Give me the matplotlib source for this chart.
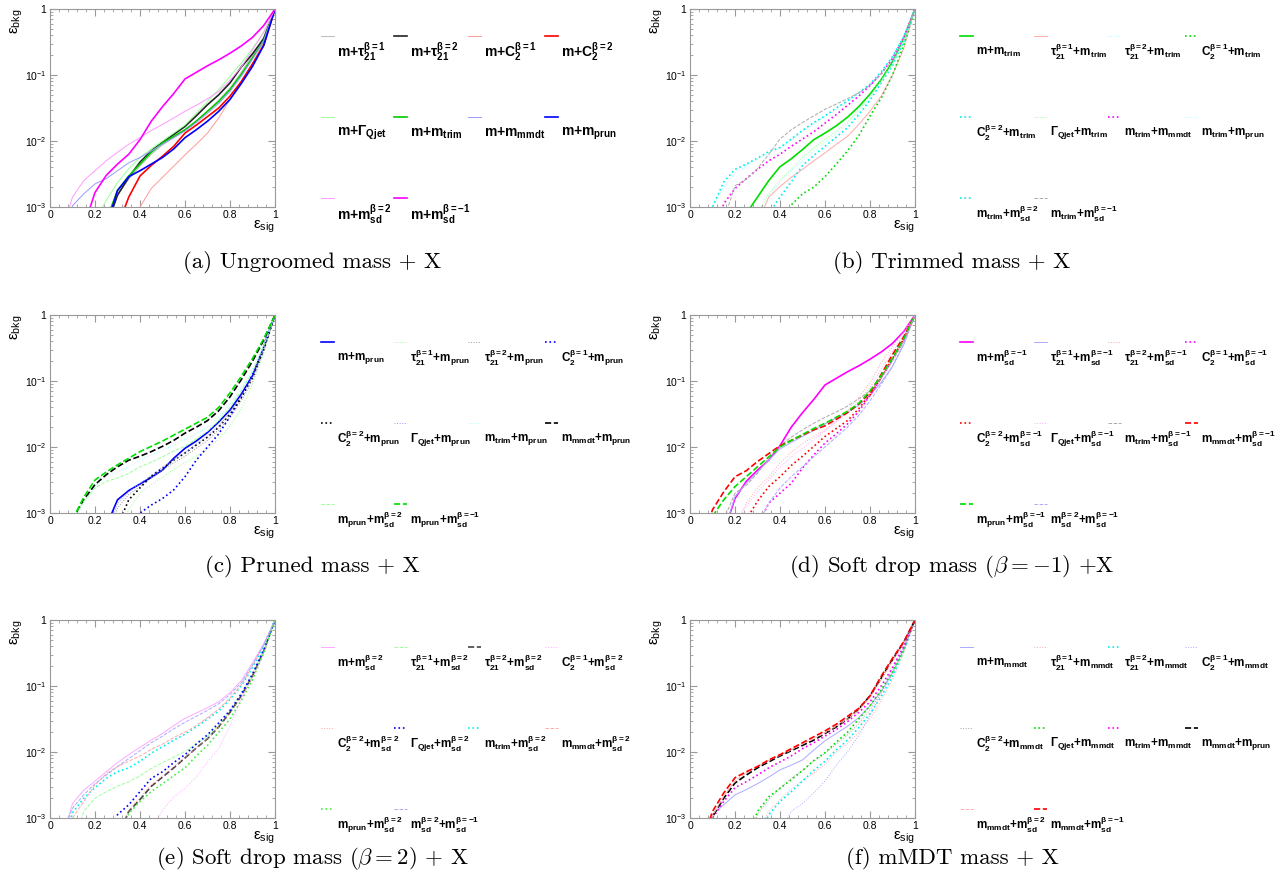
import numpy as np
import matplotlib
matplotlib.use('Agg')
import matplotlib.pyplot as plt
from matplotlib.lines import Line2D
from matplotlib.ticker import FixedLocator, FixedFormatter, LogLocator, NullFormatter, MultipleLocator

plt.rcParams['font.family'] = 'Liberation Sans'
plt.rcParams['mathtext.fontset'] = 'custom'
plt.rcParams['mathtext.rm'] = 'Liberation Sans'
plt.rcParams['mathtext.it'] = 'Liberation Sans'
plt.rcParams['mathtext.sf'] = 'Liberation Sans'
plt.rcParams['mathtext.bf'] = 'Liberation Sans:bold'

W, H = 1276, 892
N = None

# signal efficiency grid, background efficiency stored as log10(eps_bkg)
sig_eff = [0.05, 0.10, 0.15, 0.20, 0.25, 0.30, 0.35, 0.40, 0.45, 0.50,
           0.55, 0.60, 0.65, 0.70, 0.75, 0.80, 0.85, 0.90, 0.95, 1.00]

log_bkg_a = [
  [N, N, N, N, -3.3, -2.82, -2.58, -2.38, -2.2, -2.06, -1.95, -1.84, -1.7, -1.55, -1.38, -1.2, -0.96, -0.7, -0.42, 0],
  [N, N, N, N, -3.3, -2.82, -2.55, -2.32, -2.15, -2.02, -1.9, -1.78, -1.62, -1.45, -1.3, -1.12, -0.88, -0.68, -0.45, 0],
  [N, N, N, N, N, N, -3.4, -3.0, -2.72, -2.55, -2.38, -2.21, -2.05, -1.88, -1.65, -1.37, -1.1, -0.83, -0.5, 0],
  [N, N, N, N, N, -3.3, -2.85, -2.53, -2.37, -2.23, -2.08, -1.88, -1.76, -1.63, -1.5, -1.32, -1.1, -0.83, -0.55, 0],
  [N, N, N, -3.2, -2.9, -2.63, -2.42, -2.25, -2.12, -2.0, -1.88, -1.76, -1.58, -1.4, -1.22, -1.02, -0.82, -0.6, -0.35, 0],
  [N, N, N, N, -3.2, -2.75, -2.53, -2.35, -2.17, -2.03, -1.93, -1.83, -1.7, -1.55, -1.4, -1.22, -0.99, -0.74, -0.48, 0],
  [-3.5, -2.98, -2.8, -2.65, -2.57, -2.45, -2.33, -2.25, -2.15, -2.05, -1.95, -1.85, -1.72, -1.58, -1.43, -1.25, -1.02, -0.76, -0.48, 0],
  [N, N, N, N, -3.3, -2.75, -2.54, -2.45, -2.35, -2.25, -2.12, -1.95, -1.83, -1.7, -1.55, -1.37, -1.13, -0.87, -0.55, 0],
  [-3.4, -2.85, -2.6, -2.45, -2.3, -2.17, -2.05, -1.95, -1.84, -1.75, -1.65, -1.55, -1.46, -1.36, -1.25, -1.08, -0.88, -0.62, -0.35, 0],
  [N, N, -3.3, -2.78, -2.52, -2.35, -2.2, -1.98, -1.7, -1.48, -1.28, -1.06, -0.96, -0.86, -0.77, -0.67, -0.56, -0.43, -0.25, 0],
]

log_bkg_b = [
  [N, N, N, N, -3.1, -2.85, -2.6, -2.39, -2.27, -2.13, -1.98, -1.88, -1.77, -1.64, -1.48, -1.29, -1.07, -0.8, -0.45, 0],
  [N, N, N, N, N, -3.25, -2.85, -2.69, -2.55, -2.43, -2.3, -2.18, -2.05, -1.93, -1.75, -1.55, -1.32, -1.0, -0.6, 0],
  [N, -3.0, -2.7, -2.48, -2.38, -2.27, -2.18, -2.1, -1.98, -1.86, -1.74, -1.63, -1.52, -1.4, -1.28, -1.14, -0.96, -0.73, -0.42, 0],
  [N, N, N, N, N, N, N, -3.4, -2.97, -2.8, -2.7, -2.54, -2.35, -2.15, -1.92, -1.62, -1.35, -1.0, -0.55, 0],
  [N, N, N, N, N, N, -3.1, -2.85, -2.62, -2.37, -2.22, -2.08, -1.94, -1.8, -1.6, -1.38, -1.12, -0.86, -0.5, 0],
  [N, N, N, N, N, -3.1, -2.8, -2.59, -2.43, -2.25, -2.1, -1.98, -1.85, -1.72, -1.52, -1.32, -1.08, -0.82, -0.48, 0],
  [N, -3.5, -2.95, -2.72, -2.57, -2.43, -2.3, -2.2, -2.08, -1.97, -1.86, -1.73, -1.6, -1.46, -1.32, -1.16, -0.98, -0.75, -0.43, 0],
  [N, N, N, N, N, -3.2, -2.82, -2.62, -2.45, -2.3, -2.16, -2.02, -1.88, -1.74, -1.55, -1.34, -1.1, -0.84, -0.48, 0],
  [-3.5, -3.0, -2.62, -2.43, -2.35, -2.26, -2.16, -2.1, -1.97, -1.84, -1.72, -1.62, -1.5, -1.39, -1.27, -1.14, -0.95, -0.72, -0.42, 0],
  [N, N, -3.2, -2.68, -2.58, -2.42, -2.2, -1.97, -1.83, -1.72, -1.62, -1.52, -1.44, -1.36, -1.27, -1.16, -0.98, -0.78, -0.45, 0],
]

log_bkg_c = [
  [N, N, N, N, -3.2, -2.8, -2.66, -2.56, -2.46, -2.35, -2.17, -2.02, -1.91, -1.78, -1.62, -1.44, -1.2, -0.92, -0.48, 0],
  [N, N, N, N, N, -3.3, -2.95, -2.7, -2.57, -2.46, -2.34, -2.24, -2.14, -2.04, -1.88, -1.68, -1.42, -1.05, -0.58, 0],
  [N, N, N, N, -3.5, -2.92, -2.72, -2.6, -2.47, -2.35, -2.24, -2.14, -2.02, -1.9, -1.74, -1.55, -1.3, -1.0, -0.55, 0],
  [N, N, N, N, N, N, -3.5, -3.0, -2.88, -2.78, -2.65, -2.45, -2.2, -2.0, -1.8, -1.54, -1.25, -0.9, -0.5, 0],
  [N, N, N, N, N, -3.2, -2.8, -2.62, -2.44, -2.32, -2.2, -2.09, -1.97, -1.85, -1.7, -1.5, -1.25, -0.95, -0.52, 0],
  [N, N, N, N, -3.4, -2.85, -2.68, -2.55, -2.43, -2.31, -2.2, -2.08, -1.96, -1.83, -1.68, -1.48, -1.23, -0.93, -0.5, 0],
  [N, -3.2, -2.85, -2.6, -2.45, -2.38, -2.3, -2.2, -2.12, -2.05, -1.97, -1.89, -1.8, -1.7, -1.55, -1.35, -1.1, -0.82, -0.45, 0],
  [N, -3.1, -2.8, -2.57, -2.42, -2.3, -2.2, -2.14, -2.07, -1.99, -1.9, -1.79, -1.7, -1.6, -1.45, -1.24, -0.98, -0.7, -0.38, 0],
  [N, -3.1, -2.82, -2.62, -2.52, -2.47, -2.4, -2.3, -2.23, -2.15, -2.06, -1.99, -1.88, -1.76, -1.6, -1.4, -1.15, -0.86, -0.47, 0],
  [N, -3.1, -2.76, -2.5, -2.38, -2.27, -2.17, -2.07, -1.99, -1.91, -1.82, -1.73, -1.64, -1.55, -1.4, -1.18, -0.93, -0.66, -0.36, 0],
]

log_bkg_d = [
  [N, N, -3.3, -2.78, -2.52, -2.35, -2.2, -1.98, -1.7, -1.48, -1.28, -1.06, -0.96, -0.86, -0.77, -0.67, -0.56, -0.43, -0.25, 0],
  [N, N, -3.3, -2.75, -2.55, -2.38, -2.2, -2.03, -1.93, -1.84, -1.75, -1.65, -1.56, -1.47, -1.37, -1.22, -1.02, -0.78, -0.45, 0],
  [N, N, N, -3.2, -2.85, -2.62, -2.45, -2.24, -2.08, -1.95, -1.84, -1.74, -1.6, -1.45, -1.25, -1.03, -0.72, -0.48, -0.25, 0],
  [N, N, N, N, N, -3.2, -2.85, -2.7, -2.55, -2.32, -2.12, -1.94, -1.8, -1.65, -1.46, -1.22, -0.95, -0.68, -0.38, 0],
  [N, N, N, N, -3.1, -2.82, -2.6, -2.45, -2.28, -2.14, -1.99, -1.84, -1.72, -1.6, -1.42, -1.21, -0.95, -0.66, -0.36, 0],
  [N, N, N, -3.2, -2.9, -2.68, -2.5, -2.3, -2.15, -2.02, -1.88, -1.76, -1.62, -1.48, -1.3, -1.1, -0.82, -0.55, -0.3, 0],
  [N, N, -3.1, -2.7, -2.58, -2.4, -2.17, -1.98, -1.85, -1.74, -1.64, -1.55, -1.47, -1.38, -1.27, -1.15, -0.95, -0.7, -0.4, 0],
  [-3.5, -2.95, -2.68, -2.45, -2.36, -2.22, -2.1, -1.98, -1.9, -1.82, -1.74, -1.68, -1.58, -1.48, -1.35, -1.18, -0.9, -0.6, -0.33, 0],
  [N, -3.05, -2.8, -2.6, -2.45, -2.3, -2.15, -2.0, -1.9, -1.81, -1.72, -1.64, -1.55, -1.46, -1.34, -1.15, -0.92, -0.65, -0.36, 0],
  [N, N, N, N, N, -3.2, -2.85, -2.62, -2.45, -2.3, -2.15, -2.0, -1.85, -1.7, -1.52, -1.3, -1.05, -0.78, -0.43, 0],
]

log_bkg_e = [
  [-3.4, -2.78, -2.58, -2.44, -2.3, -2.16, -2.04, -1.93, -1.82, -1.72, -1.6, -1.49, -1.41, -1.33, -1.24, -1.1, -0.92, -0.65, -0.36, 0],
  [N, -3.4, -2.9, -2.7, -2.6, -2.52, -2.45, -2.36, -2.25, -2.16, -2.08, -1.99, -1.88, -1.76, -1.6, -1.38, -1.12, -0.82, -0.45, 0],
  [N, N, N, N, N, -3.3, -2.9, -2.72, -2.52, -2.38, -2.24, -2.09, -1.94, -1.8, -1.62, -1.4, -1.15, -0.85, -0.47, 0],
  [N, N, N, N, N, N, N, N, -3.2, -2.88, -2.68, -2.55, -2.38, -2.15, -1.95, -1.6, -1.2, -0.88, -0.5, 0],
  [N, N, N, N, N, -3.3, -2.88, -2.68, -2.5, -2.36, -2.22, -2.08, -1.94, -1.8, -1.62, -1.42, -1.16, -0.86, -0.48, 0],
  [N, N, N, N, -3.4, -2.95, -2.8, -2.6, -2.4, -2.3, -2.16, -2.04, -1.88, -1.74, -1.56, -1.37, -1.12, -0.82, -0.45, 0],
  [-3.5, -2.92, -2.7, -2.54, -2.4, -2.3, -2.24, -2.14, -2.02, -1.92, -1.82, -1.73, -1.62, -1.5, -1.38, -1.2, -1.0, -0.72, -0.4, 0],
  [N, -3.0, -2.75, -2.5, -2.33, -2.22, -2.14, -2.06, -1.96, -1.88, -1.78, -1.7, -1.6, -1.48, -1.35, -1.18, -0.98, -0.7, -0.38, 0],
  [N, N, N, N, N, -3.4, -2.93, -2.75, -2.6, -2.48, -2.36, -2.24, -2.06, -1.9, -1.7, -1.5, -1.22, -0.9, -0.5, 0],
  [-3.3, -2.85, -2.65, -2.48, -2.35, -2.22, -2.1, -1.98, -1.86, -1.76, -1.65, -1.55, -1.46, -1.37, -1.27, -1.13, -0.95, -0.68, -0.37, 0],
]

log_bkg_f = [
  [-3.5, -2.95, -2.8, -2.65, -2.57, -2.48, -2.38, -2.27, -2.2, -2.12, -1.97, -1.83, -1.72, -1.61, -1.48, -1.3, -1.08, -0.8, -0.45, 0],
  [N, N, N, N, N, -3.2, -2.9, -2.72, -2.56, -2.43, -2.32, -2.19, -2.0, -1.87, -1.7, -1.5, -1.22, -0.9, -0.5, 0],
  [N, N, N, N, N, -3.3, -2.95, -2.75, -2.6, -2.44, -2.28, -2.14, -1.97, -1.82, -1.63, -1.42, -1.16, -0.85, -0.47, 0],
  [N, N, N, N, N, N, N, -3.2, -2.9, -2.78, -2.62, -2.44, -2.2, -2.0, -1.75, -1.45, -1.1, -0.74, -0.4, 0],
  [N, N, N, N, -3.4, -2.95, -2.72, -2.55, -2.4, -2.28, -2.14, -2.02, -1.88, -1.74, -1.57, -1.36, -1.1, -0.82, -0.45, 0],
  [N, N, N, N, -3.4, -2.9, -2.68, -2.55, -2.42, -2.28, -2.13, -2.01, -1.85, -1.7, -1.5, -1.3, -1.06, -0.78, -0.43, 0],
  [-3.5, -3.0, -2.75, -2.54, -2.45, -2.35, -2.24, -2.15, -2.06, -1.95, -1.86, -1.76, -1.66, -1.54, -1.4, -1.24, -1.0, -0.72, -0.4, 0],
  [-3.6, -2.98, -2.7, -2.47, -2.35, -2.24, -2.15, -2.06, -1.98, -1.9, -1.82, -1.72, -1.62, -1.5, -1.35, -1.15, -0.88, -0.6, -0.34, 0],
  [-3.6, -2.97, -2.67, -2.44, -2.32, -2.22, -2.13, -2.05, -1.97, -1.88, -1.8, -1.71, -1.61, -1.5, -1.36, -1.17, -0.9, -0.62, -0.35, 0],
  [-3.4, -2.9, -2.62, -2.39, -2.3, -2.22, -2.12, -2.04, -1.95, -1.86, -1.77, -1.68, -1.58, -1.46, -1.34, -1.15, -0.85, -0.58, -0.33, 0],
]

# legend label pieces
T1 = r'\tau_{21}^{\beta{=}1}'
T2 = r'\tau_{21}^{\beta{=}2}'
C1 = r'C_{2}^{\beta{=}1}'
C2 = r'C_{2}^{\beta{=}2}'
QJ = r'\Gamma_{Qjet}'
TR = r'm_{trim}'
MD = r'm_{mmdt}'
PR = r'm_{prun}'
S2 = r'm_{sd}^{\beta{=}2}'
SM = r'm_{sd}^{\beta{=}{-}1}'

def pair(a, b):
  return r'$\mathbf{' + a + '{+}' + b + '}$'

labels_a = [pair('m', x) for x in [T1, T2, C1, C2, QJ, TR, MD, PR, S2, SM]]
labels_b = [pair('m', TR), pair(T1, TR), pair(T2, TR), pair(C1, TR), pair(C2, TR),
            pair(QJ, TR), pair(TR, MD), pair(TR, PR), pair(TR, S2), pair(TR, SM)]
labels_c = [pair('m', PR), pair(T1, PR), pair(T2, PR), pair(C1, PR), pair(C2, PR),
            pair(QJ, PR), pair(TR, PR), pair(MD, PR), pair(PR, S2), pair(PR, SM)]
labels_d = [pair('m', SM), pair(T1, SM), pair(T2, SM), pair(C1, SM), pair(C2, SM),
            pair(QJ, SM), pair(TR, SM), pair(MD, SM), pair(PR, SM), pair(S2, SM)]
labels_e = [pair('m', S2), pair(T1, S2), pair(T2, S2), pair(C1, S2), pair(C2, S2),
            pair(QJ, S2), pair(TR, S2), pair(MD, S2), pair(PR, S2), pair(S2, SM)]
labels_f = [pair('m', MD), pair(T1, MD), pair(T2, MD), pair(C1, MD), pair(C2, MD),
            pair(QJ, MD), pair(TR, MD), pair(MD, PR), pair(MD, S2), pair(MD, SM)]

THICK = 1.2
THIN = 0.7

styles_a = [('#bbbbbb', '-', THIN), ('#222222', '-', THICK), ('#ff9999', '-', THIN), ('#ff0000', '-', THICK),
            ('#99ff99', '-', THIN), ('#00cc00', '-', THICK), ('#9999ff', '-', THIN), ('#0000ff', '-', THICK),
            ('#ff99ff', '-', THIN), ('#ff00ff', '-', THICK)]
styles_b = [('#00dd00', '-', THICK), ('#ffaaaa', '-', THIN), ('#99ffff', ':', THIN), ('#00dd00', ':', THICK),
            ('#00eeee', ':', THICK), ('#99ff99', ':', THIN), ('#ff00ff', ':', THICK), ('#aaffff', ':', THIN),
            ('#00eeee', ':', THICK), ('#aaaaaa', '--', THIN)]
styles_c = [('#0000ff', '-', THICK), ('#99ff99', ':', THIN), ('#999999', ':', THIN), ('#0000ff', ':', THICK),
            ('#000000', ':', THICK), ('#9999ff', ':', THIN), ('#aaffff', ':', THIN), ('#000000', '--', THICK),
            ('#99ff99', '--', THIN), ('#00dd00', '--', THICK)]
styles_d = [('#ff00ff', '-', THICK), ('#aaaaff', '-', THIN), ('#ffaaaa', ':', THIN), ('#ff00ff', ':', THICK),
            ('#ff0000', ':', THICK), ('#ffaaff', ':', THIN), ('#aaaaaa', '--', THIN), ('#ff0000', '--', THICK),
            ('#00dd00', '--', THICK), ('#aaaaff', '--', THIN)]
styles_e = [('#ffaaff', '-', THIN), ('#99ff99', '--', THIN), ('#444444', '--', THICK), ('#ffaaff', ':', THIN),
            ('#ffaaaa', ':', THIN), ('#0000ff', ':', THICK), ('#00eeee', ':', THICK), ('#ffaaaa', '--', THIN),
            ('#44ee44', ':', THICK), ('#aaaaff', '--', THIN)]
styles_f = [('#aaaaff', '-', THIN), ('#ffaaaa', ':', THIN), ('#00eeee', ':', THICK), ('#aaaaff', ':', THIN),
            ('#aaaaaa', ':', THIN), ('#00dd00', ':', THICK), ('#ff00ff', ':', THICK), ('#000000', '--', THICK),
            ('#ffaaaa', '--', THIN), ('#ff0000', '--', THICK)]

FRAME = '#999999'
LEFT_COLS = [321, 394, 468, 545]
RIGHT_COLS = [960, 1034, 1108, 1185]


def draw_panel(fig, left, top, log_bkg, labels, styles, caption, cap_y, cols, leg_size):
  ax = fig.add_axes([left / W, 1 - (top + 198) / H, 225 / W, 198 / H])
  for vals, (c, ls, lw) in zip(log_bkg, styles):
    y = np.array([np.nan if v is None else 10.0 ** v for v in vals])
    ax.plot(sig_eff, y, color=c, linestyle=ls, linewidth=lw)
  ax.set_yscale('log')
  ax.set_xlim(0, 1)
  ax.set_ylim(1e-3, 1)
  ax.yaxis.set_major_locator(FixedLocator([1e-3, 1e-2, 1e-1, 1]))
  ax.yaxis.set_major_formatter(FixedFormatter([r'$10^{-3}$', r'$10^{-2}$', r'$10^{-1}$', '1']))
  ax.yaxis.set_minor_locator(LogLocator(base=10, subs=np.arange(2, 10)))
  ax.yaxis.set_minor_formatter(NullFormatter())
  ax.xaxis.set_major_locator(FixedLocator([0, 0.2, 0.4, 0.6, 0.8, 1.0]))
  ax.xaxis.set_major_formatter(FixedFormatter(['0', '0.2', '0.4', '0.6', '0.8', '1']))
  ax.xaxis.set_minor_locator(MultipleLocator(0.04))
  for pos in ['top', 'bottom', 'right', 'left']:
    ax.spines[pos].set_color(FRAME)
    ax.spines[pos].set_linewidth(0.8)
  ax.tick_params(which='both', direction='in', top=True, right=True, color=FRAME,
                 labelsize=7.5, pad=2.5)
  ax.tick_params(which='major', length=5)
  ax.tick_params(which='minor', length=2.5)
  ax.set_ylabel(r'$\epsilon_{bkg}$', loc='top', fontsize=11, labelpad=0)
  ax.set_xlabel(r'$\epsilon_{sig}$', loc='right', fontsize=11, labelpad=-1)

  # legend: short line sample with the label underneath, 4 per row
  for i, (lab, (c, ls, lw)) in enumerate(zip(labels, styles)):
    x = cols[i % 4]
    y = top + 27 + 81 * (i // 4)
    fig.add_artist(Line2D([x / W, (x + 13) / W], [1 - y / H, 1 - y / H], color=c,
                          linestyle=ls, linewidth=lw, transform=fig.transFigure))
    fig.text((x + 16) / W, 1 - (y + 16) / H, lab, fontsize=leg_size, fontweight='bold',
             ha='left', va='center')

  cap_x = 312 if cols[0] < 600 else 952
  fig.text(cap_x / W, 1 - cap_y / H, caption, family='cmr10', math_fontfamily='cm',
           fontsize=16.5, ha='center', va='center')
  return ax


fig = plt.figure(figsize=(W / 100, H / 100), dpi=100)

draw_panel(fig, 50, 9, log_bkg_a, labels_a, styles_a, '(a) Ungroomed mass + X', 262, LEFT_COLS, 10)
draw_panel(fig, 690, 9, log_bkg_b, labels_b, styles_b, '(b) Trimmed mass + X', 262, RIGHT_COLS, 8.5)
draw_panel(fig, 50, 315, log_bkg_c, labels_c, styles_c, '(c) Pruned mass + X', 567, LEFT_COLS, 8.5)
draw_panel(fig, 690, 315, log_bkg_d, labels_d, styles_d, r'(d) Soft drop mass ($\beta = -1$) +X', 567, RIGHT_COLS, 8.5)
draw_panel(fig, 50, 620, log_bkg_e, labels_e, styles_e, r'(e) Soft drop mass ($\beta = 2$) + X', 858, LEFT_COLS, 8.5)
draw_panel(fig, 690, 620, log_bkg_f, labels_f, styles_f, '(f) mMDT mass + X', 858, RIGHT_COLS, 8.5)

plt.savefig('out.png', dpi=100)
plt.close()
